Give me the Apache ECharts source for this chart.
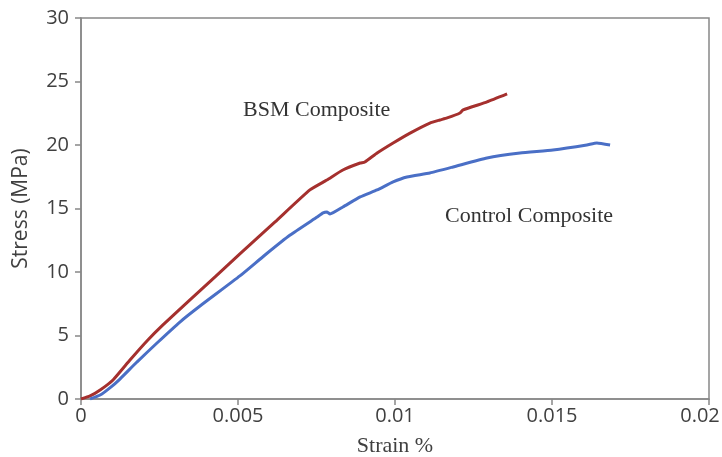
<!DOCTYPE html>
<html>
<head>
<meta charset="utf-8">
<script src="https://cdn.jsdelivr.net/npm/echarts@6/dist/echarts.min.js"></script>
<style>
  html, body { margin: 0; padding: 0; background: #fff; }
  #chart { width: 722px; height: 457px; }
</style>
</head>
<body>
<div id="chart"></div>
<script>
// Stress–strain curves, strain (%) vs stress (MPa)
const bsmStrain = [0, 0.00029, 0.00061, 0.00102, 0.00156, 0.00210, 0.00261, 0.00347, 0.00427, 0.00506,
  0.00618, 0.00729, 0.00783, 0.00834, 0.00889, 0.00904, 0.00943, 0.00994, 0.01048,
  0.01111, 0.01143, 0.01166, 0.01207, 0.01217, 0.01293, 0.01357];
const bsmStress = [0, 0.24, 0.71, 1.50, 3.07, 4.57, 5.83, 7.80, 9.61, 11.42,
  13.94, 16.46, 17.24, 18.03, 18.58, 18.66, 19.37, 20.16, 20.94,
  21.73, 21.97, 22.13, 22.52, 22.76, 23.39, 24.02];

const ctrlStrain = [0.00029, 0.00061, 0.00092, 0.00124, 0.00178, 0.00242, 0.00315, 0.00379, 0.00506, 0.00586,
  0.00666, 0.00752, 0.00771, 0.00783, 0.00793, 0.00834, 0.00889, 0.00943, 0.00994,
  0.01038, 0.01111, 0.01185, 0.01293, 0.01398, 0.01503, 0.01611, 0.01643, 0.01685];
const ctrlStress = [0, 0.31, 0.87, 1.57, 2.91, 4.41, 6.06, 7.32, 9.69, 11.34,
  12.91, 14.33, 14.65, 14.72, 14.57, 15.12, 15.91, 16.46, 17.09,
  17.48, 17.80, 18.27, 18.98, 19.37, 19.61, 20.00, 20.16, 20.00];

const seriesNames = ['BSM Composite', 'Control Composite'];
const xTitle = 'Strain %';
const yTitle = 'Stress (MPa)';

const pairs = (xs, ys) => xs.map((x, i) => [x, ys[i]]);

const axisGray = '#888888';
const labelGray = '#404040';
const sans = '"Open Sans", sans-serif';
const serif = '"Liberation Serif", "DejaVu Serif", serif';

const chart = echarts.init(document.getElementById('chart'));
chart.setOption({
  animation: false,
  backgroundColor: '#ffffff',
  grid: {
    left: 81, right: 13, top: 18, bottom: 58, outerBoundsMode: 'none',
    show: true, borderColor: axisGray, borderWidth: 1.5
  },
  xAxis: {
    type: 'value', min: 0, max: 0.02, interval: 0.005,
    name: xTitle, nameLocation: 'middle', nameGap: 36,
    nameTextStyle: { fontFamily: serif, fontSize: 22, color: labelGray },
    axisLine: { show: true, lineStyle: { color: axisGray, width: 1.5 } },
    axisTick: { show: true, length: 6, lineStyle: { color: axisGray, width: 1.5 } },
    splitLine: { show: false },
    axisLabel: {
      color: labelGray, fontFamily: sans, fontSize: 20, margin: 7,
      formatter: v => Math.abs(v - 0.02) < 1e-9 ? '{m|0.02}' : String(+v.toFixed(3)),
      rich: { m: { fontFamily: sans, fontSize: 20, color: labelGray, padding: [0, 18, 0, 0] } }
    }
  },
  yAxis: {
    type: 'value', min: 0, max: 30, interval: 5,
    name: yTitle, nameLocation: 'middle', nameGap: 49,
    nameTextStyle: { fontFamily: sans, fontSize: 21, color: labelGray },
    axisLine: { show: true, lineStyle: { color: axisGray, width: 1.5 } },
    axisTick: { show: true, length: 6, lineStyle: { color: axisGray, width: 1.5 } },
    splitLine: { show: false },
    axisLabel: { color: labelGray, fontFamily: sans, fontSize: 20, margin: 12 }
  },
  series: [
    {
      name: seriesNames[0], type: 'line', data: pairs(bsmStrain, bsmStress),
      showSymbol: false, smooth: 0.15,
      lineStyle: { color: '#a5302e', width: 3 }, itemStyle: { color: '#a5302e' }
    },
    {
      name: seriesNames[1], type: 'line', data: pairs(ctrlStrain, ctrlStress),
      showSymbol: false, smooth: 0.15,
      lineStyle: { color: '#4a6fc6', width: 3 }, itemStyle: { color: '#4a6fc6' }
    }
  ],
  graphic: [
    { type: 'text', style: { x: 243, y: 110, text: seriesNames[0], font: '22px ' + serif, fill: '#333333', textVerticalAlign: 'middle' } },
    { type: 'text', style: { x: 445, y: 216, text: seriesNames[1], font: '22px ' + serif, fill: '#333333', textVerticalAlign: 'middle' } }
  ]
});
</script>
</body>
</html>
